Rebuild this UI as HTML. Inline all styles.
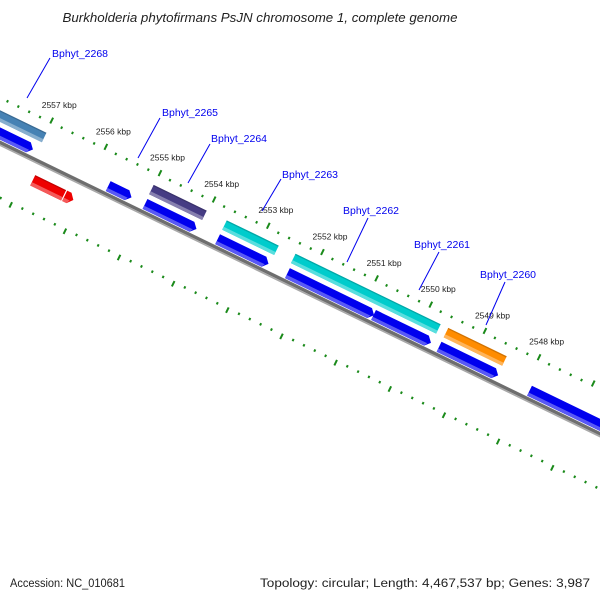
<!DOCTYPE html>
<html><head><meta charset="utf-8"><style>
html,body{margin:0;padding:0;background:#fff;}
svg{display:block;font-family:"Liberation Sans","DejaVu Sans",sans-serif;}
</style></head><body>
<svg id="map" width="600" height="600" viewBox="0 0 600 600" xmlns="http://www.w3.org/2000/svg">
<rect width="600" height="600" fill="#fff"/>
<text x="260" y="22" text-anchor="middle" font-size="13" font-style="italic" fill="#222" textLength="395" lengthAdjust="spacingAndGlyphs">Burkholderia phytofirmans PsJN chromosome 1, complete genome</text>
<g id="ring" transform="translate(0,143) rotate(25.9)"></g>
<g id="labels"></g>
<text x="10" y="587" font-size="11.5" fill="#222" textLength="115" lengthAdjust="spacingAndGlyphs">Accession: NC_010681</text>
<text x="260" y="587" font-size="11.5" fill="#222" textLength="330" lengthAdjust="spacingAndGlyphs">Topology: circular; Length: 4,467,537 bp; Genes: 3,987</text>
</svg>
<script>
// data (kbp)
const fwdGenes = [[2558.6,2557.07],[2555.68,2555.25],[2555.00,2554.05],[2553.66,2552.72],[2552.37,2550.77],[2550.78,2549.72],[2549.57,2548.48],[2547.90,2546.0]];
const cogGenes = [[2558.6,2556.99],[2555.01,2554.03],[2553.66,2552.70],[2552.39,2549.71],[2549.57,2548.49]];
const cogColors = ['#4682b4','#463c84','#00cccc','#00cccc','#ff8c00'];
const revGenes = [[2556.85,2556.28],[2556.26,2556.10]];
const majorTicks = [2557,2556,2555,2554,2553,2552,2551,2550,2549,2548];
const geneLabels = ['Bphyt_2268','Bphyt_2265','Bphyt_2264','Bphyt_2263','Bphyt_2262','Bphyt_2261','Bphyt_2260'];
const labelPos = [[52,57,27,98,50,58],[162,116,138,158,160,118],[211,142,188,183,210,144],[282,178,262,211,281,179],[343,214,347,262,368,218],[414,248,419,290,439,252],[480,278,486,325,505,282]];

const NS='http://www.w3.org/2000/svg';
const ring=document.getElementById('ring');
const labels=document.getElementById('labels');
const U0=36.7, PX=60.2, TH=25.9*Math.PI/180;
function u(k){return U0+(2557-k)*PX;}
function mk(tag,attrs,parent){const e=document.createElementNS(NS,tag);for(const a in attrs)e.setAttribute(a,attrs[a]);parent.appendChild(e);return e;}
function toPage(uu,v){return [uu*Math.cos(TH)-v*Math.sin(TH), 143+uu*Math.sin(TH)+v*Math.cos(TH)];}

let bb=mk('rect',{x:-100,y:-2.2,width:1000,height:3.4,fill:'#6e6e6e'},ring);


let bb2=mk('rect',{x:-100,y:1.2,width:1000,height:1.6,fill:'#a8a8a8'},ring);



for(let k=2558.6;k>=2545.9;k-=0.2){
  const kk=Math.round(k*10)/10;
  const isMajor=Math.abs(kk-Math.round(kk))<0.01;
  const x=u(kk);
  let t1=mk('line',{x1:x,x2:x,y1:isMajor?-46:-42,y2:-39.5,stroke:'#1a8a1a','stroke-width':2},ring);
  
  
  let t2=mk('line',{x1:x,x2:x,y1:48,y2:isMajor?54:50.5,stroke:'#1a8a1a','stroke-width':2},ring);
  
  
}
majorTicks.forEach(k=>{
  const p=toPage(u(k),-60);
  let t=mk('text',{x:p[0],y:p[1]+3,'text-anchor':'middle','font-size':8.5,fill:'#222'},labels);
  
  
  t.textContent=k+' kbp';
});

function lighten(c){const n=parseInt(c.slice(1),16);let r=n>>16,g=(n>>8)&255,b=n&255;r=Math.round(r+(255-r)*0.35);g=Math.round(g+(255-g)*0.35);b=Math.round(b+(255-b)*0.35);return `rgb(${r},${g},${b})`;}
function bar(k1,k2,v1,v2,color,arrow,name){
  const a=u(k1),b=u(k2),h=arrow?Math.min(5,(b-a)/2):0,m=(v1+v2)/2,s=v1+(v2-v1)*0.68;
  const g=mk('g',{},ring);
  
  
  if(arrow==='right'){
    mk('polygon',{points:`${a},${v1} ${b-h},${v1} ${b},${m} ${b-h},${v2} ${a},${v2}`,fill:color},g);
    mk('polygon',{points:`${a},${s} ${b-h*(1-(s-m)/(v2-m))},${s} ${b-h},${v2} ${a},${v2}`,fill:lighten(color)},g);
  }else{
    mk('rect',{x:a,y:v1,width:b-a,height:v2-v1,fill:color},g);
    mk('rect',{x:a,y:s,width:b-a,height:v2-s,fill:lighten(color)},g);
    mk('rect',{x:a,y:v1,width:b-a,height:1.3,fill:'rgba(0,0,0,0.18)'},g);
  }
}
fwdGenes.forEach(g=>bar(g[0],g[1],-14,-3,'#0000ee','right','forward-gene'));
cogGenes.forEach((g,i)=>bar(g[0],g[1],-29.5,-19,cogColors[i],null,'cog-gene'));
revGenes.forEach((g,i)=>bar(g[0],g[1],13.5,25,'#ee0000',i===1?'right':null,'reverse-gene'));

geneLabels.forEach((txt,i)=>{
  const p=labelPos[i];
  let l=mk('line',{x1:p[2],y1:p[3],x2:p[4],y2:p[5],stroke:'#0000ee','stroke-width':1},labels);
  
  
  let t=mk('text',{x:p[0],y:p[1],'font-size':10,fill:'#0000ee',textLength:56,lengthAdjust:'spacingAndGlyphs'},labels);
  
  
  t.textContent=txt;
});
</script>
</body></html>
